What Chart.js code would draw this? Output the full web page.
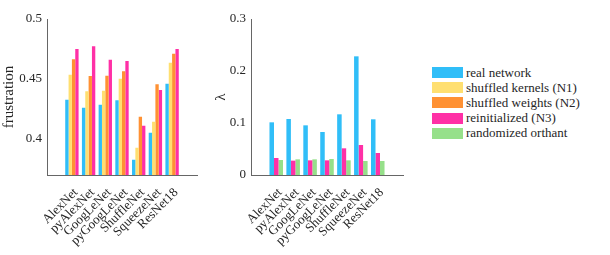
<!DOCTYPE html>
<html>
<head>
<meta charset="utf-8">
<script src="https://cdn.jsdelivr.net/npm/chart.js@4"></script>
<style>
  body { margin: 0; background: #fff; width: 610px; height: 255px; overflow: hidden; position: relative; }
  #left { position: absolute; left: 0; top: 0; }
  #right { position: absolute; left: 200px; top: 0; }
  #legend { position: absolute; left: 432px; top: 65px; font: 13px "Liberation Serif", serif; color: #262626; }
  #legend div { height: 15.2px; display: flex; align-items: center; white-space: nowrap; }
  #legend span.sw { display: inline-block; width: 31px; height: 11px; margin-right: 3px; }
</style>
</head>
<body>
<canvas id="left" width="200" height="255"></canvas>
<canvas id="right" width="210" height="255"></canvas>
<div id="legend"></div>
<script>
// Networks on the x axis (same for both panels)
const networks = ['AlexNet', 'pyAlexNet', 'GoogLeNet', 'pyGoogLeNet', 'ShuffleNet', 'SqueezeNet', 'ResNet18']

// Left panel: frustration
const frustReal      = [0.4328, 0.4261, 0.4286, 0.4322, 0.3828, 0.4053, 0.4461]
const frustKernels   = [0.4536, 0.4397, 0.4403, 0.4503, 0.3928, 0.4144, 0.4636]
const frustWeights   = [0.4664, 0.4525, 0.4528, 0.4564, 0.4186, 0.4456, 0.4711]
const frustReinit    = [0.4750, 0.4772, 0.4661, 0.4650, 0.4111, 0.4408, 0.4750]
const frustTicks     = [0.4, 0.45, 0.5]

// Right panel: lambda
const lambdaReal     = [0.1013, 0.1077, 0.0955, 0.0827, 0.1167, 0.2282, 0.1071]
const lambdaReinit   = [0.0327, 0.0276, 0.0282, 0.0282, 0.0513, 0.0577, 0.0423]
const lambdaOrthant  = [0.0288, 0.0301, 0.0301, 0.0308, 0.0282, 0.0269, 0.0269]
const lambdaTicks    = [0, 0.1, 0.2, 0.3]

// Series names and colours
const seriesNames = ['real network', 'shuffled kernels (N1)', 'shuffled weights (N2)', 'reinitialized (N3)', 'randomized orthant']
const seriesColors = ['#30bef8', '#ffdf70', '#ff9133', '#ff30a6', '#96e08a']

const textColor = '#262626'
const axisColor = '#666666'
const fontFamily = '"Liberation Serif", serif'

function points(values) {
  return values.map((v, i) => ({ x: i + 1, y: v }))
}

function dataset(values, idx) {
  return {
    label: seriesNames[idx],
    data: points(values),
    backgroundColor: seriesColors[idx],
    borderWidth: 0,
    categoryPercentage: 0.8,
    barPercentage: 1.0
  }
}

function makeOptions(yMin, yMax, yTicks, yTitle, yWidth, titlePad, padRight) {
  return {
    responsive: false,
    animation: false,
    layout: { padding: { top: 19, right: padRight, left: 0, bottom: 0 } },
    plugins: { legend: { display: false }, tooltip: { enabled: false } },
    scales: {
      x: {
        type: 'linear',
        min: 0.15,
        max: 7.85,
        grid: { display: false, drawTicks: false },
        border: { display: true, color: axisColor, width: 1 },
        afterBuildTicks: scale => { scale.ticks = networks.map((n, i) => ({ value: i + 1 })) },
        afterFit: scale => { scale.height = 80 },
        ticks: {
          autoSkip: false,
          minRotation: 45,
          maxRotation: 45,
          padding: 10,
          labelOffset: 4,
          color: textColor,
          font: { family: fontFamily, size: 13 },
          callback: value => networks[value - 1] || ''
        }
      },
      y: {
        min: yMin,
        max: yMax,
        grid: { display: false, drawTicks: false },
        border: { display: true, color: axisColor, width: 1 },
        afterBuildTicks: scale => { scale.ticks = yTicks.map(v => ({ value: v })) },
        afterFit: scale => { scale.width = yWidth },
        ticks: {
          padding: 5,
          color: textColor,
          font: { family: fontFamily, size: 13 },
          callback: value => String(value)
        },
        title: {
          display: true,
          text: yTitle,
          color: textColor,
          padding: { top: titlePad, bottom: 0 },
          font: { family: fontFamily, size: 15 }
        }
      }
    }
  }
}

new Chart(document.getElementById('left'), {
  type: 'bar',
  data: {
    datasets: [
      dataset(frustReal, 0),
      dataset(frustKernels, 1),
      dataset(frustWeights, 2),
      dataset(frustReinit, 3)
    ]
  },
  options: makeOptions(0.37, 0.5, frustTicks, 'frustration', 47, 0, 3)
})

new Chart(document.getElementById('right'), {
  type: 'bar',
  data: {
    datasets: [
      dataset(lambdaReal, 0),
      dataset(lambdaReinit, 3),
      dataset(lambdaOrthant, 4)
    ]
  },
  options: makeOptions(0, 0.3, lambdaTicks, 'λ', 51, 12, 7)
})

// Legend shared by both panels
const legend = document.getElementById('legend')
seriesNames.forEach((name, i) => {
  const row = document.createElement('div')
  const sw = document.createElement('span')
  sw.className = 'sw'
  sw.style.background = seriesColors[i]
  row.appendChild(sw)
  row.appendChild(document.createTextNode(name))
  legend.appendChild(row)
})
</script>
</body>
</html>
